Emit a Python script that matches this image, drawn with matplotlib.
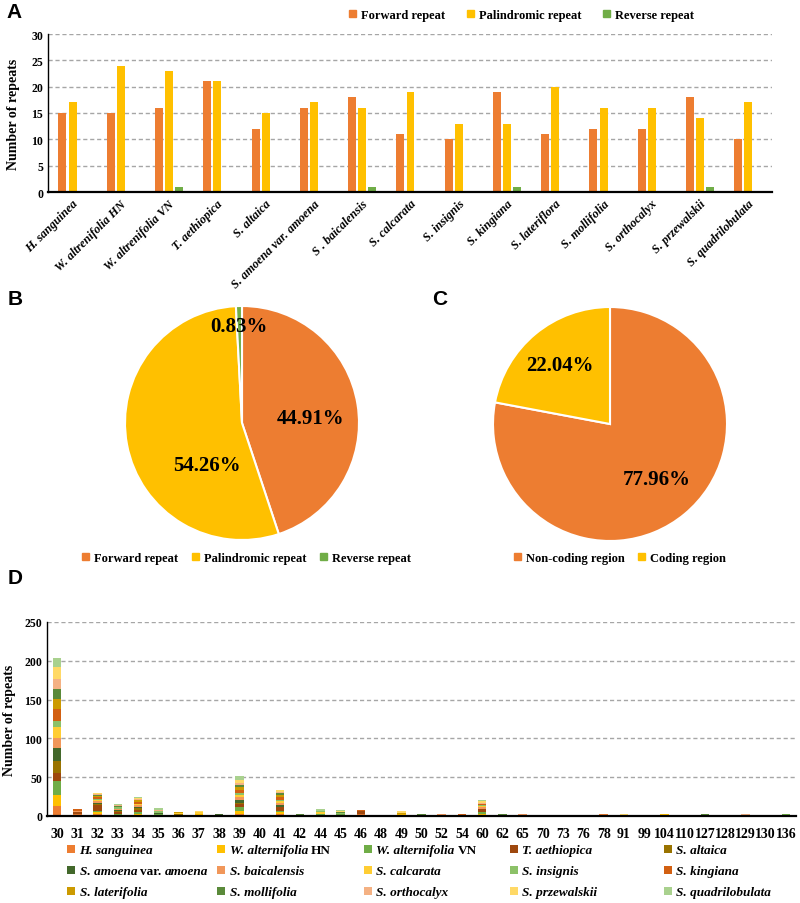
import matplotlib
matplotlib.use("Agg")
import matplotlib.pyplot as plt
from matplotlib.patches import Patch, Rectangle
from matplotlib.offsetbox import HPacker, VPacker, TextArea, DrawingArea, AnchoredOffsetbox
import numpy as np

plt.rcParams['font.family'] = ['Liberation Serif', 'DejaVu Serif']
plt.rcParams['font.weight'] = 'bold'

# ---------------- Panel A data ----------------
species_A = ["H. sanguinea", "W. altrenifolia HN", "W. altrenifolia VN", "T. aethiopica",
             "S. altaica", "S. amoena var. amoena", "S . baicalensis", "S. calcarata",
             "S. insignis", "S. kingiana", "S. lateriflora", "S. mollifolia",
             "S. orthocalyx", "S. przewalskii", "S. quadrilobulata"]
forward = [15, 15, 16, 21, 12, 16, 18, 11, 10, 19, 11, 12, 12, 18, 10]
palindromic = [17, 24, 23, 21, 15, 17, 16, 19, 13, 13, 20, 16, 16, 14, 17]
reverse = [0, 0, 1, 0, 0, 0, 1, 0, 0, 1, 0, 0, 0, 1, 0]
repeat_types = ["Forward repeat", "Palindromic repeat", "Reverse repeat"]

# ---------------- Panel B / C data ----------------
type_pct = [44.91, 54.26, 0.83]
region_labels = ["Non-coding region", "Coding region"]
region_pct = [77.96, 22.04]

# ---------------- Panel D data ----------------
lengths = ["30", "31", "32", "33", "34", "35", "36", "37", "38", "39", "40", "41", "42",
           "44", "45", "46", "48", "49", "50", "52", "54", "60", "62", "65", "70", "73",
           "76", "78", "91", "99", "104", "110", "127", "128", "129", "130", "136"]
# legend labels: (text, italic?) parts
species_D = [[("H. sanguinea", True)],
             [("W. alternifolia", True), ("HN", False)],
             [("W. alternifolia", True), ("VN", False)],
             [("T. aethiopica", True)],
             [("S. altaica", True)],
             [("S. amoena", True), ("var.", False), ("amoena", True)],
             [("S. baicalensis", True)],
             [("S. calcarata", True)],
             [("S. insignis", True)],
             [("S. kingiana", True)],
             [("S. laterifolia", True)],
             [("S. mollifolia", True)],
             [("S. orthocalyx", True)],
             [("S. przewalskii", True)],
             [("S. quadrilobulata", True)]]
h_sanguinea =      [13,2,2,0,1,0,0,0,0,3,0,2,0,0,0,3,0,0,0,1,0,1,0,1,0,0,0,2,0,0,1,0,0,0,0,0,0]
w_alt_hn =         [14,0,3,0,2,0,1,3,0,4,0,3,0,0,0,0,0,2,0,0,0,2,0,0,0,1,0,0,0,0,1,0,0,0,0,0,1]
w_alt_vn =         [18,0,1,3,2,2,0,0,0,4,0,2,0,2,2,0,0,0,0,0,0,2,1,0,0,0,0,0,0,0,0,0,1,0,0,0,2]
t_aethiopica =     [11,3,8,2,3,0,0,0,0,4,0,4,0,0,0,3,0,0,0,0,0,4,0,0,0,0,0,0,0,0,0,0,0,0,0,0,0]
s_altaica =        [15,0,2,1,2,1,1,0,1,2,0,1,0,1,0,0,0,0,0,0,0,0,0,0,0,0,0,0,0,0,0,0,0,0,0,0,0]
s_amoena =         [17,0,1,2,2,1,1,0,1,3,0,2,1,0,0,0,0,0,1,0,0,0,0,0,1,0,0,0,0,0,0,0,0,0,1,0,0]
s_baicalensis =    [13,2,2,1,2,0,0,0,0,4,1,3,0,0,0,0,0,0,0,1,1,2,0,1,0,0,0,0,0,0,0,0,0,0,0,1,0]
s_calcarata =      [14,0,2,0,1,0,1,2,0,3,0,2,0,2,0,0,0,0,0,0,0,2,0,0,0,0,0,0,0,0,0,1,0,0,0,0,0]
s_insignis =       [8,0,1,2,1,2,0,0,0,3,0,2,0,1,2,0,0,0,0,0,0,1,0,0,0,0,0,0,0,0,0,0,0,0,0,0,0]
s_kingiana =       [15,2,2,0,2,0,0,0,0,4,0,3,0,0,0,2,0,0,0,0,1,1,0,0,0,0,1,0,0,0,0,0,0,0,0,0,0]
s_laterifolia =    [13,0,2,1,2,0,1,0,0,3,0,3,0,1,0,0,0,2,0,0,0,1,0,0,0,0,0,0,0,1,0,0,0,1,0,0,0]
s_mollifolia =     [13,0,1,1,1,1,0,0,1,3,0,2,1,0,1,0,0,0,1,0,0,0,1,0,0,0,0,0,0,0,0,0,1,0,0,0,0]
s_orthocalyx =     [13,0,1,1,1,1,0,0,0,3,0,2,0,0,0,0,1,0,0,1,0,1,0,1,0,0,0,0,1,0,0,0,0,0,1,0,0]
s_przewalskii =    [15,0,1,0,1,0,0,2,0,4,0,2,0,0,1,0,0,2,0,0,0,2,0,0,0,0,0,1,1,0,1,0,0,0,0,0,0]
s_quadrilobulata = [12,0,1,1,1,2,0,0,0,4,0,1,0,2,2,0,0,0,0,0,0,1,0,0,0,0,0,0,0,0,0,0,0,0,0,0,0]

ORANGE, YELLOW, GREEN = "#ED7D31", "#FFC000", "#70AD47"
colors_D = ["#ED7D31", "#FFC000", "#70AD47", "#9E480E", "#997300", "#43682B",
            "#F1975A", "#FFCD33", "#8CC168", "#D26012", "#CC9A00", "#5A8A3A",
            "#F4B183", "#FFD966", "#A9D18E"]
GRID = "#A6A6A6"

fig = plt.figure(figsize=(8, 9.04), dpi=100)
W, H = 800.0, 904.0
def fx(p): return p / W
def fy(p): return 1 - p / H

LETTER = dict(fontsize=15, fontfamily=['Liberation Sans', 'DejaVu Sans'], fontweight='bold',
              va='center', ha='left')
LEG = dict(frameon=False, handlelength=0.55, handleheight=0.55, handletextpad=0.4,
           borderpad=0, borderaxespad=0)

def style_bar_axis(ax):
    ax.spines['top'].set_visible(False)
    ax.spines['right'].set_visible(False)
    ax.spines['left'].set_linewidth(1.0)
    ax.spines['bottom'].set_linewidth(1.6)
    ax.set_axisbelow(True)
    ax.yaxis.grid(True, linestyle=(0, (3, 2)), color=GRID, linewidth=1.0)
    ax.tick_params(axis='both', length=0, labelsize=8.5)
    for t in ax.get_yticklabels():
        t.set_fontweight('bold')

# ---------------- Panel A ----------------
axA = fig.add_axes([fx(48), fy(193), fx(772 - 48), (193 - 35) / H])
x = np.arange(len(species_A))
bw = 0.165
axA.bar(x - 0.2, forward, bw, color=ORANGE)
axA.bar(x + 0.01, palindromic, bw, color=YELLOW)
axA.bar(x + 0.22, reverse, bw, color=GREEN)
axA.set_xlim(-0.5, len(species_A) - 0.5)
axA.set_ylim(0, 30)
axA.set_yticks(range(0, 31, 5))
style_bar_axis(axA)
axA.set_xticks(x)
axA.set_xticklabels(species_A, rotation=45, ha='right', rotation_mode='anchor',
                    fontstyle='italic', fontweight='bold', fontsize=8.8)
axA.tick_params(axis='x', pad=4)
axA.set_ylabel("Number of repeats", fontsize=10, fontweight='bold', labelpad=8)
fig.legend(handles=[Patch(color=c) for c in (ORANGE, YELLOW, GREEN)], labels=repeat_types,
           loc='center left', bbox_to_anchor=(fx(349), fy(16)), ncol=3, fontsize=9,
           columnspacing=1.75, **LEG)
fig.text(fx(6), fy(13), "A", **LETTER)

# ---------------- Panel B ----------------
R = 117
axB = fig.add_axes([fx(242 - R), fy(424 + R), fx(2 * R), 2 * R / H])
axB.pie(type_pct, colors=[ORANGE, YELLOW, GREEN], startangle=90, counterclock=False,
        wedgeprops=dict(edgecolor='white', linewidth=1.5))
axB.set_xlim(-1, 1); axB.set_ylim(-1, 1)
posB = [(0.59, 0.04), (-0.30, -0.36), (-0.03, 0.83)]
for v, (px, py) in zip(type_pct, posB):
    axB.text(px, py, f"{v:.2f}%", ha='center', va='center', fontsize=15, fontweight='bold')
fig.legend(handles=[Patch(color=c) for c in (ORANGE, YELLOW, GREEN)], labels=repeat_types,
           loc='center left', bbox_to_anchor=(fx(82), fy(559)), ncol=3, fontsize=9,
           columnspacing=1.1, **LEG)
fig.text(fx(8), fy(300), "B", **LETTER)

# ---------------- Panel C ----------------
axC = fig.add_axes([fx(610 - R), fy(425 + R), fx(2 * R), 2 * R / H])
axC.pie(region_pct, colors=[ORANGE, YELLOW], startangle=90, counterclock=False,
        wedgeprops=dict(edgecolor='white', linewidth=1.5))
axC.set_xlim(-1, 1); axC.set_ylim(-1, 1)
posC = [(0.40, -0.47), (-0.43, 0.50)]
for v, (px, py) in zip(region_pct, posC):
    axC.text(px, py, f"{v:.2f}%", ha='center', va='center', fontsize=15, fontweight='bold')
fig.legend(handles=[Patch(color=c) for c in (ORANGE, YELLOW)], labels=region_labels,
           loc='center left', bbox_to_anchor=(fx(514), fy(559)), ncol=2, fontsize=9,
           columnspacing=1.1, **LEG)
fig.text(fx(432), fy(300), "C", **LETTER)

# ---------------- Panel D ----------------
axD = fig.add_axes([fx(47), fy(817), fx(796 - 47), (817 - 623) / H])
series_D = [h_sanguinea, w_alt_hn, w_alt_vn, t_aethiopica, s_altaica, s_amoena,
            s_baicalensis, s_calcarata, s_insignis, s_kingiana, s_laterifolia,
            s_mollifolia, s_orthocalyx, s_przewalskii, s_quadrilobulata]
xd = np.arange(len(lengths))
bottom = np.zeros(len(lengths))
for vals, col in zip(series_D, colors_D):
    vals = np.array(vals, dtype=float)
    axD.bar(xd, vals, 0.42, bottom=bottom, color=col)
    bottom += vals
axD.set_xlim(-0.5, len(lengths) - 0.5)
axD.set_ylim(0, 250)
axD.set_yticks(range(0, 251, 50))
style_bar_axis(axD)
axD.set_xticks(xd)
axD.set_xticklabels(lengths, fontsize=10, fontweight='bold')
axD.tick_params(axis='x', pad=8)
axD.set_ylabel("Number of repeats", fontsize=10, fontweight='bold', labelpad=6)
fig.text(fx(8), fy(578), "D", **LETTER)

FS_D = 9.5
def legend_entry(parts, color):
    da = DrawingArea(5.5, 5.5, 0, 0)
    da.add_artist(Rectangle((0, 0), 5.5, 5.5, facecolor=color, edgecolor='none'))
    tas = [TextArea(t, textprops=dict(fontsize=FS_D, fontweight='bold',
                                      fontstyle='italic' if it else 'normal'))
           for t, it in parts]
    txt = HPacker(children=tas, align='baseline', pad=0, sep=2.4)
    return HPacker(children=[da, txt], align='baseline', pad=0, sep=3.5)

col_x = [67, 217, 364, 510, 664]
for c in range(5):
    entries = [legend_entry(species_D[i], colors_D[i]) for i in (c, c + 5, c + 10)]
    box = VPacker(children=entries, align='left', pad=0, sep=6.5)
    anch = AnchoredOffsetbox(loc='upper left', child=box, pad=0, borderpad=0, frameon=False,
                             bbox_to_anchor=(fx(col_x[c]), fy(845)),
                             bbox_transform=fig.transFigure)
    fig.add_artist(anch)

fig.savefig("out.png", dpi=100)
